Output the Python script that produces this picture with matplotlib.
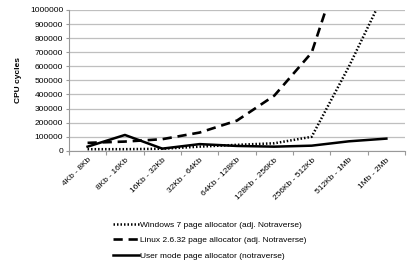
import matplotlib.pyplot as plt
from matplotlib.ticker import FixedLocator, NullFormatter
from matplotlib.lines import Line2D

categories = ["4Kb - 8Kb", "8Kb - 16Kb", "16Kb - 32Kb", "32Kb - 64Kb", "64Kb - 128Kb",
              "128Kb - 256Kb", "256Kb - 512Kb", "512Kb - 1Mb", "1Mb - 2Mb"]
windows7 = [12000, 12000, 15000, 30000, 43000, 54000, 100000, 600000, 1150000]
linux = [57000, 66000, 83000, 130000, 215000, 392000, 697000, 1500000, 3000000]
usermode = [30000, 113000, 16000, 48000, 35000, 30000, 37000, 68000, 87000]
yticks = list(range(0, 1000001, 100000))

plt.rcParams['font.family'] = ['Liberation Sans', 'DejaVu Sans']

fig = plt.figure(figsize=(4.15, 2.68), dpi=100)
ax = fig.add_axes([0.166, 0.437, 0.81, 0.526])

x = list(range(len(categories)))
ax.plot(x, windows7, color="black", linestyle=(0, (0.6, 0.8)), linewidth=1.8)
ax.plot(x, linux, color="black", linestyle=(0, (3.5, 2.2)), linewidth=1.9)
ax.plot(x, usermode, color="black", linestyle="-", linewidth=1.8)

ax.set_xlim(-0.5, len(categories) - 0.5)
ax.set_ylim(0, 1000000)
ax.set_yticks(yticks)
ax.set_yticklabels([str(v) for v in yticks], fontsize=6)
ax.yaxis.grid(True, color="#bfbfbf", linewidth=0.9)
ax.set_axisbelow(True)

ax.set_xticks(x)
ax.set_xticklabels(categories, fontsize=6, rotation=45, ha="right", rotation_mode="anchor")
ax.tick_params(axis="x", which="major", length=0, pad=4)
ax.xaxis.set_minor_locator(FixedLocator([i - 0.5 for i in range(len(categories) + 1)]))
ax.xaxis.set_minor_formatter(NullFormatter())
ax.tick_params(axis="x", which="minor", length=3, color="#999999", width=0.8)
ax.tick_params(axis="y", length=2, color="#999999", width=0.8, pad=2)

for s in ["top", "right"]:
    ax.spines[s].set_visible(False)
ax.spines["left"].set_color("#999999")
ax.spines["bottom"].set_color("#999999")
ax.spines["left"].set_linewidth(0.8)
ax.spines["bottom"].set_linewidth(0.8)

ax.set_ylabel("CPU cycles", fontsize=6, fontweight="bold", labelpad=6)

handles = [
    Line2D([], [], color="black", linestyle=(0, (0.6, 0.8)), linewidth=1.8),
    Line2D([], [], color="black", linestyle=(0, (3.5, 2.2)), linewidth=1.9),
    Line2D([], [], color="black", linestyle="-", linewidth=1.8),
]
labels = ["Windows 7 page allocator (adj. Notraverse)",
          "Linux 2.6.32 page allocator (adj. Notraverse)",
          "User mode page allocator (notraverse)"]
fig.legend(handles, labels, loc="upper left", bbox_to_anchor=(0.272, 0.176),
           frameon=False, fontsize=6, handlelength=3.1, handletextpad=0.2,
           labelspacing=0.95, borderaxespad=0, borderpad=0)

fig.savefig("out.png", dpi=100)
